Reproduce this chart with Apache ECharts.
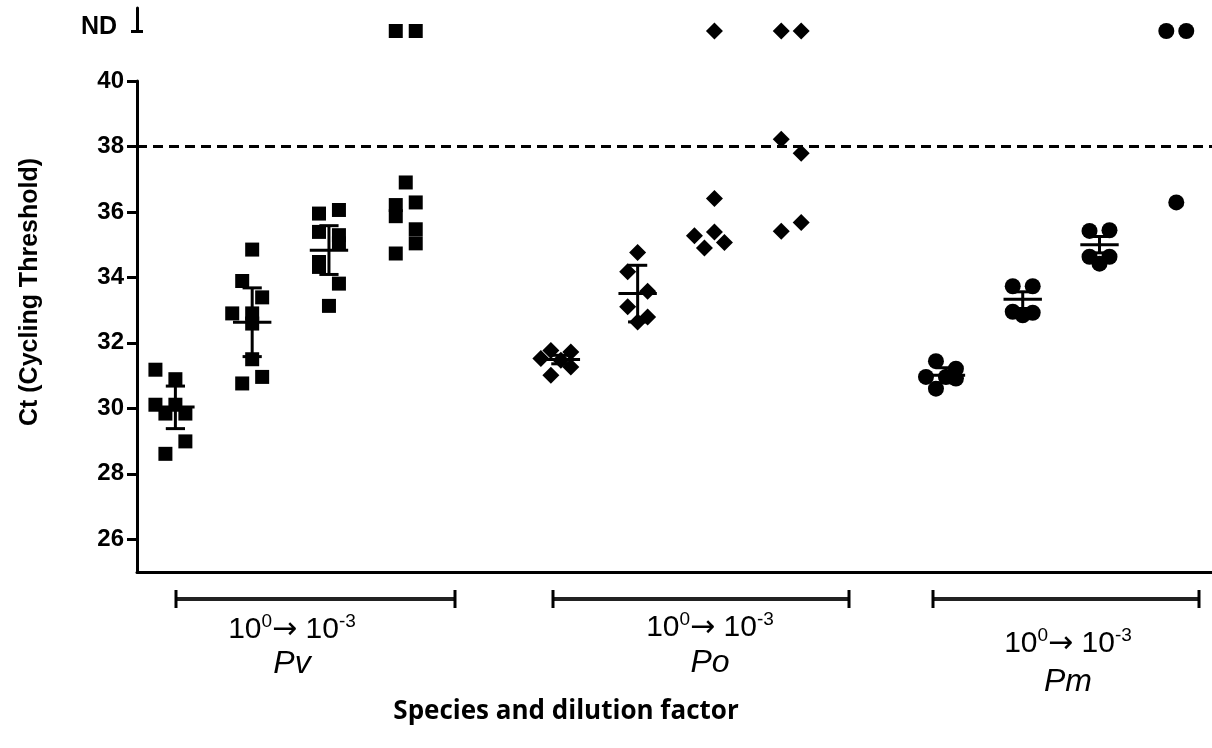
<!DOCTYPE html>
<html>
<head>
<meta charset="utf-8">
<title>Ct by species and dilution</title>
<script src="https://cdn.jsdelivr.net/npm/echarts@6/dist/echarts.min.js"></script>
<style>
  html, body { margin: 0; padding: 0; background: #fff; }
  #chart { width: 1212px; height: 748px; }
</style>
</head>
<body>
<div id="chart"></div>
<script>
// tick labels of the Ct axis
const yTicks = [26, 28, 30, 32, 34, 36, 38, 40];
const cutoff = 38;

// x position of each dilution column (10^0 .. 10^-3) per species
const pvPos = [0, 1, 2, 3];
const poPos = [5.02, 6.02, 7.02, 8.02];
const pmPos = [10.035, 11.035, 12.035, 13.035];

// Ct values per column, and the horizontal scatter of each point
const pvCt = [
  [31.18, 30.89, 30.11, 29.84, 30.11, 29.84, 28.99, 28.61],
  [34.85, 33.89, 33.39, 32.90, 32.90, 32.59, 31.50, 30.96, 30.76],
  [35.95, 36.06, 35.39, 35.29, 35.04, 34.47, 34.32, 33.81, 33.13],
  [36.90, 36.21, 35.87, 36.29, 35.47, 35.04, 34.73]
];
const pvJit = [
  [-0.26, 0, -0.26, -0.13, 0, 0.13, 0.13, -0.13],
  [0, -0.13, 0.13, -0.26, 0, 0, 0, 0.13, -0.13],
  [-0.13, 0.13, -0.13, 0.13, 0.13, -0.13, -0.13, 0.13, 0],
  [0, -0.13, -0.13, 0.13, 0.13, 0.13, -0.13]
];
const poCt = [
  [31.77, 31.52, 31.72, 31.47, 31.01, 31.26],
  [34.76, 34.17, 33.58, 33.10, 32.79, 32.64],
  [36.41, 35.27, 35.39, 34.90, 35.07],
  [38.22, 37.79, 35.41, 35.68]
];
const poJit = [
  [-0.13, -0.26, 0.13, 0, -0.13, 0.13],
  [0, -0.13, 0.13, -0.13, 0.13, 0],
  [0, -0.26, 0, -0.13, 0.13],
  [-0.13, 0.13, -0.13, 0.13]
];
const pmCt = [
  [31.44, 30.96, 30.60, 31.21, 30.96, 30.91],
  [33.73, 33.73, 32.95, 32.92, 32.84],
  [35.42, 35.44, 34.63, 34.63, 34.42],
  [36.29]
];
const pmJit = [
  [-0.13, -0.26, -0.13, 0.13, 0, 0.13],
  [-0.13, 0.13, -0.13, 0.13, 0],
  [-0.13, 0.13, -0.13, 0.13, 0],
  [0]
];

// not detected samples (scatter offsets only)
const pvNd = [[], [], [], [-0.13, 0.13]];
const poNd = [[], [], [0], [-0.13, 0.13]];
const pmNd = [[], [], [], [-0.13, 0.13]];

// mean and error bar ends, null where no bar is drawn
const pvMean = [30.04, 32.63, 34.83, null];
const pvLow = [29.38, 31.58, 34.09, null];
const pvHigh = [30.68, 33.68, 35.58, null];
const poMean = [31.49, 33.51, null, null];
const poLow = [31.36, 32.64, null, null];
const poHigh = [31.62, 34.37, null, null];
const pmMean = [31.01, 33.33, 35.00, null];
const pmLow = [30.78, 33.05, 34.75, null];
const pmHigh = [31.24, 33.56, 35.25, null];

const dilutionText = '10{sup|0}{arr|\u2192} 10{sup|-3}';
const speciesNames = ['Pv', 'Po', 'Pm'];

function points(pos, ct, jit) {
  const out = [];
  ct.forEach((col, i) => col.forEach((v, k) => out.push([pos[i] + jit[i][k], v])));
  return out;
}
function ndPoints(pos, nd) {
  const out = [];
  nd.forEach((col, i) => col.forEach(j => out.push([pos[i] + j, 0])));
  return out;
}
function bars(pos, mean, low, high) {
  const out = [];
  mean.forEach((m, i) => { if (m !== null) out.push([pos[i], m, low[i], high[i]]); });
  return out;
}

const chart = echarts.init(document.getElementById('chart'));

const black = '#000';
const arial = '"Liberation Sans", Arial, sans-serif';
const tickFont = { color: black, fontFamily: arial, fontWeight: 'bold', fontSize: 24 };

function scatter(name, symbol, size, data, grid) {
  return {
    name: name,
    type: 'scatter',
    xAxisIndex: grid,
    yAxisIndex: grid,
    symbol: symbol,
    symbolSize: size,
    clip: false,
    itemStyle: { color: black, opacity: 1 },
    data: data
  };
}

const errorBars = {
  type: 'custom',
  xAxisIndex: 0,
  yAxisIndex: 0,
  z: 5,
  renderItem: function (params, api) {
    const x = api.value(0);
    const m = api.coord([x, api.value(1)]);
    const lo = api.coord([x, api.value(2)]);
    const hi = api.coord([x, api.value(3)]);
    const halfMean = api.size([0.25, 0])[0];
    const halfCap = api.size([0.125, 0])[0];
    const style = { stroke: black, lineWidth: 3 };
    return {
      type: 'group',
      children: [
        { type: 'line', shape: { x1: m[0], y1: lo[1], x2: m[0], y2: hi[1] }, style: style },
        { type: 'line', shape: { x1: m[0] - halfCap, y1: lo[1], x2: m[0] + halfCap, y2: lo[1] }, style: style },
        { type: 'line', shape: { x1: m[0] - halfCap, y1: hi[1], x2: m[0] + halfCap, y2: hi[1] }, style: style },
        { type: 'line', shape: { x1: m[0] - halfMean, y1: m[1], x2: m[0] + halfMean, y2: m[1] }, style: style }
      ]
    };
  },
  data: bars(pvPos, pvMean, pvLow, pvHigh)
    .concat(bars(poPos, poMean, poLow, poHigh))
    .concat(bars(pmPos, pmMean, pmLow, pmHigh))
};

// brackets under the x axis: [left, right]
const brackets = [[176, 455], [553, 849], [933, 1199]];
const labelX = [292, 710, 1068];
const dilutionY = [630, 628, 644];
const speciesY = [664, 663, 682];

const graphics = [];
brackets.forEach(b => {
  graphics.push({ type: 'line', shape: { x1: b[0], y1: 599, x2: b[1], y2: 599 }, style: { stroke: '#222', lineWidth: 4 } });
  graphics.push({ type: 'line', shape: { x1: b[0], y1: 590, x2: b[0], y2: 608 }, style: { stroke: black, lineWidth: 3 } });
  graphics.push({ type: 'line', shape: { x1: b[1], y1: 590, x2: b[1], y2: 608 }, style: { stroke: black, lineWidth: 3 } });
});
speciesNames.forEach((s, i) => {
  graphics.push({
    type: 'text', x: labelX[i], y: dilutionY[i],
    style: {
      text: dilutionText, fill: black, align: 'center', verticalAlign: 'middle',
      font: '30px ' + arial,
      rich: {
        sup: { fontSize: 19, fontFamily: arial, padding: [0, 0, 17, 0] },
        arr: { fontSize: 30, fontFamily: '"DejaVu Sans", sans-serif' }
      }
    }
  });
  graphics.push({
    type: 'text', x: labelX[i], y: speciesY[i],
    style: { text: s, fill: black, align: 'center', verticalAlign: 'middle', font: 'italic 32px ' + arial }
  });
});
graphics.push({
  type: 'text', x: 566, y: 712,
  style: { text: 'Species and dilution factor', fill: black, align: 'center', verticalAlign: 'middle', font: 'bold 26px "Open Sans", sans-serif' }
});
graphics.push({
  type: 'text', x: 30, y: 292, rotation: Math.PI / 2,
  style: { text: 'Ct (Cycling Threshold)', fill: black, align: 'center', verticalAlign: 'middle', font: 'bold 25px ' + arial }
});

const option = {
  animation: false,
  backgroundColor: '#fff',
  grid: [
    { left: 137, right: 0, top: 81, bottom: 176 },
    { left: 137, right: 0, top: 8, height: 23 }
  ],
  xAxis: [
    {
      type: 'value', gridIndex: 0, min: -0.5, max: 13.5,
      axisLine: { show: true, onZero: false, lineStyle: { color: black, width: 3 } },
      axisTick: { show: false }, axisLabel: { show: false }, splitLine: { show: false }
    },
    {
      type: 'value', gridIndex: 1, min: -0.5, max: 13.5,
      axisLine: { show: false }, axisTick: { show: false }, axisLabel: { show: false }, splitLine: { show: false }
    }
  ],
  yAxis: [
    {
      type: 'value', gridIndex: 0, min: 25, max: 40,
      axisLine: { show: true, onZero: false, lineStyle: { color: black, width: 3 } },
      axisTick: { show: true, customValues: yTicks, length: 10, lineStyle: { color: black, width: 3 } },
      axisLabel: Object.assign({ customValues: yTicks, margin: 13 }, tickFont),
      splitLine: { show: false }
    },
    {
      type: 'value', gridIndex: 1, min: 0, max: 1, position: 'left',
      axisLine: { show: true, onZero: false, lineStyle: { color: black, width: 3 } },
      axisTick: { show: true, customValues: [0], length: 6, lineStyle: { color: black, width: 3 } },
      axisLabel: Object.assign({}, tickFont, {
        customValues: [0], margin: 20, formatter: () => 'ND', fontSize: 25,
        verticalAlign: 'bottom', lineHeight: 8
      }),
      splitLine: { show: false }
    },
    {
      type: 'value', gridIndex: 1, min: 0, max: 1, position: 'left', offset: 0,
      axisLine: { show: false, onZero: false },
      axisTick: { show: true, inside: true, customValues: [0], length: 6, lineStyle: { color: black, width: 3 } },
      axisLabel: { show: false },
      splitLine: { show: false }
    }
  ],
  series: [
    Object.assign(scatter('Pv', 'rect', 14, points(pvPos, pvCt, pvJit), 0), {
      markLine: {
        silent: true, symbol: 'none', label: { show: false },
        lineStyle: { color: black, width: 3, type: [10, 6] },
        data: [{ yAxis: cutoff }]
      }
    }),
    scatter('Po', 'diamond', 17, points(poPos, poCt, poJit), 0),
    scatter('Pm', 'circle', 16, points(pmPos, pmCt, pmJit), 0),
    scatter('Pv ND', 'rect', 14, ndPoints(pvPos, pvNd), 1),
    scatter('Po ND', 'diamond', 17, ndPoints(poPos, poNd), 1),
    scatter('Pm ND', 'circle', 16, ndPoints(pmPos, pmNd), 1),
    errorBars
  ],
  graphic: graphics
};

chart.setOption(option);
</script>
</body>
</html>
